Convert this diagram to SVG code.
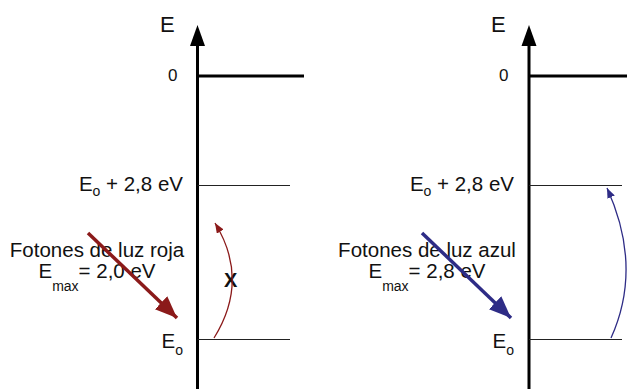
<svg xmlns="http://www.w3.org/2000/svg" width="627" height="389" viewBox="0 0 627 389">
<style>
text{font-family:"Liberation Sans",Arial,sans-serif;fill:#111}
.lbl{font-size:20.5px}
.sub{font-size:14px}
.axis{stroke:#000;stroke-width:3;fill:none}
.lvl{stroke:#222;stroke-width:1;fill:none}
</style>
<defs>
<marker id="bigRed" markerUnits="userSpaceOnUse" markerWidth="24" markerHeight="20" refX="22" refY="9" orient="auto" viewBox="0 0 24 20"><path d="M0,0 L22,9 L0,18 z" fill="#8b1a1a"/></marker>
<marker id="bigBlue" markerUnits="userSpaceOnUse" markerWidth="24" markerHeight="20" refX="22" refY="9" orient="auto" viewBox="0 0 24 20"><path d="M0,0 L22,9 L0,18 z" fill="#2e2c86"/></marker>
<marker id="smRed" markerUnits="userSpaceOnUse" markerWidth="12" markerHeight="10" refX="10" refY="4" orient="auto" viewBox="0 0 12 10"><path d="M0,0 L10,4 L0,8 z" fill="#8b1a1a"/></marker>
<marker id="smBlue" markerUnits="userSpaceOnUse" markerWidth="12" markerHeight="10" refX="10" refY="4" orient="auto" viewBox="0 0 12 10"><path d="M0,0 L10,4 L0,8 z" fill="#2e2c86"/></marker>
</defs>

<g id="left-diagram">
<g id="left-axis">
<line class="axis" x1="197.5" y1="44" x2="197.5" y2="389"/>
<polygon points="197.5,25 190,46 205,46" fill="#000"/>
<line class="axis" x1="197.5" y1="76" x2="304" y2="76"/>
<text x="160" y="32" style="font-size:22px">E</text>
<text x="168" y="81" style="font-size:17px">0</text>
</g>
<g id="left-level-high">
<line class="lvl" x1="197.5" y1="185.5" x2="290" y2="185.5"/>
<text class="lbl" x="183" y="191" text-anchor="end">E<tspan class="sub" dy="5">o</tspan><tspan dy="-5"> + 2,8 eV</tspan></text>
</g>
<g id="left-level-low">
<line class="lvl" x1="197.5" y1="339.5" x2="290" y2="339.5"/>
<text class="lbl" x="183" y="348" text-anchor="end">E<tspan class="sub" dy="7">o</tspan></text>
</g>
<g id="left-photon-label">
<text class="lbl" x="97" y="257" text-anchor="middle">Fotones de luz roja</text>
<text class="lbl" x="97" y="278" text-anchor="middle">E<tspan class="sub" dy="13">max</tspan><tspan dy="-13">= 2,0 eV</tspan></text>
</g>
<text id="left-x" x="224" y="287" style="font-size:20px;font-weight:bold">X</text>
</g>

<g id="right-diagram">
<g id="right-axis">
<line class="axis" x1="529" y1="44" x2="529" y2="389"/>
<polygon points="529,25 521.5,46 536.5,46" fill="#000"/>
<line class="axis" x1="529" y1="76" x2="627" y2="76"/>
<text x="491" y="32" style="font-size:22px">E</text>
<text x="499" y="81" style="font-size:17px">0</text>
</g>
<g id="right-level-high">
<line class="lvl" x1="529" y1="185.5" x2="622" y2="185.5"/>
<text class="lbl" x="514" y="191" text-anchor="end">E<tspan class="sub" dy="5">o</tspan><tspan dy="-5"> + 2,8 eV</tspan></text>
</g>
<g id="right-level-low">
<line class="lvl" x1="529" y1="339.5" x2="622" y2="339.5"/>
<text class="lbl" x="514" y="348" text-anchor="end">E<tspan class="sub" dy="7">o</tspan></text>
</g>
<g id="right-photon-label">
<text class="lbl" x="427" y="257" text-anchor="middle">Fotones de luz azul</text>
<text class="lbl" x="427" y="278" text-anchor="middle">E<tspan class="sub" dy="13">max</tspan><tspan dy="-13">= 2,8 eV</tspan></text>
</g>
</g>

<g id="connectors">
<line x1="88" y1="233" x2="177" y2="318" stroke="#8b1a1a" stroke-width="3.5" marker-end="url(#bigRed)"/>
<path d="M214,338 Q250,280 215,223" fill="none" stroke="#8b1a1a" stroke-width="1.3" marker-end="url(#smRed)"/>
<line x1="422" y1="233" x2="511" y2="318" stroke="#2e2c86" stroke-width="3.5" marker-end="url(#bigBlue)"/>
<path d="M611,338 Q643,267 607,188" fill="none" stroke="#2e2c86" stroke-width="1.3" marker-end="url(#smBlue)"/>
</g>
</svg>
